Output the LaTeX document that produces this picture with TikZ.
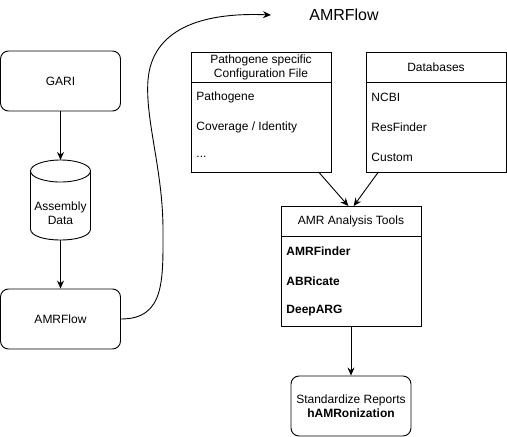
\documentclass[tikz,border=0pt]{standalone}
\usepackage{fontspec}
\setmainfont{Liberation Sans}
\usetikzlibrary{positioning,arrows.meta,calc}

\begin{document}
\begin{tikzpicture}[x=1pt, y=-1pt, line width=0.9pt,
    every node/.style={font=\fontsize{12}{14}\selectfont},
    stage/.style={rectangle, rounded corners=8pt, draw, minimum width=120pt, minimum height=60pt, align=center},
    head/.style={rectangle, draw, outer sep=0pt, inner ysep=1pt, minimum width=140pt, minimum height=30pt, align=center},
    body/.style={rectangle, draw, outer sep=0pt, minimum width=140pt, minimum height=90pt},
    field/.style={anchor=west, inner sep=0pt},
    flow/.style={-{Stealth[length=8pt, width=7pt]}}]
    \useasboundingbox (0,0) rectangle (507,437);

    % Left column (GARI -> assembly -> AMRFlow)
    \node[stage] (gari) at (60.5,81) {GARI};
    \coordinate (asmtop) at (60.5,160);
    \coordinate (asmbot) at (60.5,240);
    \draw (30.5,171) -- (30.5,229) .. controls (30.5,243.7) and (90.5,243.7) .. (90.5,229) -- (90.5,171);
    \draw (60.5,171) ellipse [x radius=30, y radius=11];
    \node[align=center] (asm) at (60.5,213) {Assembly\\Data};
    \node[stage] (amrflow) at (60.5,319) {AMRFlow};
    \draw[flow] (gari) -- (asmtop);
    \draw[flow] (asmbot) -- (amrflow);

    % Pipeline title and link
    \node[font=\fontsize{16}{19}\selectfont] (title) at (344,15) {AMRFlow};
    \coordinate (inlet) at (271,15);
    \draw[flow] (amrflow.east) .. controls (165,319) and (163,280) .. (163,230)
        .. controls (163,170) and (145,120) .. (148,80)
        .. controls (152,30) and (200,12) .. (inlet);

    % Configuration file
    \node[head] (cfghead) at (261,67) {Pathogene specific\\Configuration File};
    \node[body, below=0pt of cfghead] (cfgbody) {};
    \node[field] (cfg1) at (196,97) {Pathogene};
    \node[field] (cfg2) at (196,127) {Coverage / Identity};
    \node[field] (cfg3) at (196,157) {...};

    % Databases
    \node[head] (dbhead) at (436,67) {Databases};
    \node[body, below=0pt of dbhead] (dbbody) {};
    \foreach \name [count=\i] in {NCBI, ResFinder, Custom}
        \node[field] (db\i) at (371, 67+30*\i) {\name};

    % Analysis tools
    \node[head] (toolhead) at (351,221) {AMR Analysis Tools};
    \node[body, below=0pt of toolhead] (toolbody) {};
    \foreach \name [count=\i] in {AMRFinder, ABRicate, DeepARG}
        \node[field, font=\fontsize{12}{14}\selectfont\bfseries] (tool\i) at (286, 221+30*\i) {\name};

    \node[stage] (std) at (351,406) {Standardize Reports\\\textbf{hAMRonization}};

    \draw[flow] (cfgbody.-38) -- (toolhead.100);
    \draw[flow] (dbbody.-142) -- (toolhead.80);
    \draw[flow] (toolbody) -- (std);
\end{tikzpicture}
\end{document}
